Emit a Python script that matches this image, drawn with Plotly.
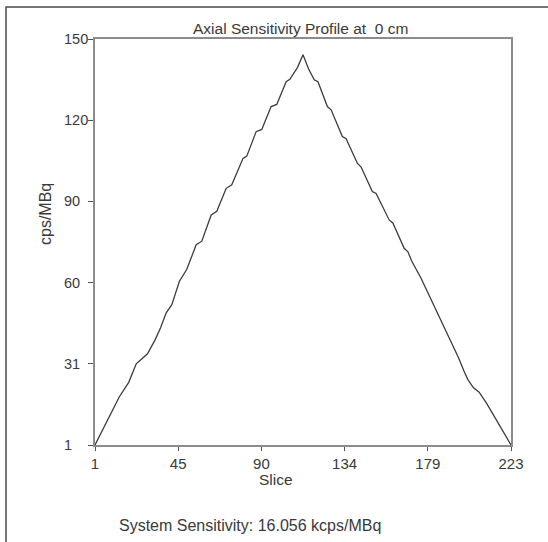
import numpy as np
import plotly.graph_objects as go

# ---- data ----
slices = [1, 4, 7, 10, 14, 19, 23, 25, 29, 33, 36, 39, 42, 46, 49, 50, 55, 58,
          63, 66, 71, 74, 80, 82, 87, 90, 95, 98, 103, 105, 109, 112,
          115, 118, 120, 125, 127, 133, 135, 141, 143, 149, 151, 158, 160,
          166, 168, 170, 175, 183, 186, 190, 195, 198, 200, 203, 206, 210,
          215, 219, 223]
cps = [1, 5, 9.6, 13.5, 18.7, 24, 30.8, 32, 34.5, 39.5, 44, 49.5, 52.5, 61,
       64.8, 65.5, 74.5, 75.8, 85.4, 86.8, 95.2, 96.5, 106.2, 107, 116, 116.8,
       125.2, 126, 134.3, 135.2, 139.5, 144.2,
       139, 135, 134.3, 125.2, 124, 114.2, 113.4, 104.4, 103, 94, 93.3, 83.6,
       82.4, 73.2, 71.9, 68.5, 62.2, 50.5, 46, 40.7, 33, 28, 25, 22, 20.4,
       16.3, 10.2, 5.5, 1]

x_tick_labels = ["1", "45", "90", "134", "179", "223"]
y_tick_labels = ["1", "31", "60", "90", "120", "150"]

title_text = "Axial Sensitivity Profile at\u00a0 0 cm"
x_title = "Slice"
y_title = "cps/MBq"
footer_text = "System Sensitivity: 16.056 kcps/MBq"

x_min, x_max = 1, 223
y_min, y_max = 1, 150

# ---- figure ----
W, H = 548, 542
L, R, T, B = 95, 37, 39, 97
pw, ph = W - L - R, H - T - B


def px(xp):
    return (xp - L) / pw


def py(yp):
    return (H - B - yp) / ph


FONT = "Liberation Sans, Arial, sans-serif"
TXT = "#3a3a3a"
AX = "#8c8c8c"

x_ticks = np.linspace(x_min, x_max, len(x_tick_labels))
y_ticks = np.linspace(y_min, y_max, len(y_tick_labels))

fig = go.Figure()
fig.add_trace(go.Scatter(x=slices, y=cps, mode="lines",
                         line=dict(color="#3c3c3c", width=1.3),
                         showlegend=False, hoverinfo="skip"))

annotations = [
    dict(text=title_text, x=px(300), y=py(28), xref="paper", yref="paper",
         showarrow=False, xanchor="center", yanchor="middle",
         font=dict(family=FONT, size=15.5, color=TXT)),
    dict(text=x_title, x=px(276), y=py(479), xref="paper", yref="paper",
         showarrow=False, xanchor="center", yanchor="middle",
         font=dict(family=FONT, size=15.5, color=TXT)),
    dict(text=y_title, x=px(45), y=py(214), xref="paper", yref="paper",
         showarrow=False, xanchor="center", yanchor="middle", textangle=-90,
         font=dict(family=FONT, size=16, color=TXT)),
    dict(text=footer_text, x=px(250), y=py(525), xref="paper", yref="paper",
         showarrow=False, xanchor="center", yanchor="middle",
         font=dict(family=FONT, size=16, color=TXT)),
]
for v, lab in zip(y_ticks, y_tick_labels):
    annotations.append(dict(text=lab, x=px(62), y=v, xref="paper", yref="y",
                            showarrow=False, xanchor="left", yanchor="middle",
                            font=dict(family=FONT, size=14.5, color=TXT)))

fig.update_layout(
    width=W, height=H, autosize=False,
    margin=dict(l=L, r=R, t=T, b=B, pad=0),
    paper_bgcolor="white", plot_bgcolor="white",
    annotations=annotations,
    shapes=[dict(type="rect", xref="paper", yref="paper",
                 x0=px(6), x1=px(W + 20), y0=py(H + 20), y1=py(7),
                 line=dict(color="#4a4a4a", width=1.5), layer="above")],
    xaxis=dict(range=[x_min, x_max], tickvals=x_ticks, ticktext=x_tick_labels,
               showgrid=False, zeroline=False, showline=True, mirror=True,
               linecolor=AX, linewidth=2, ticks="outside", ticklen=4,
               tickcolor="#555", tickwidth=1,
               tickfont=dict(family=FONT, size=15, color=TXT)),
    yaxis=dict(range=[y_min, y_max], tickvals=y_ticks, showticklabels=False,
               showgrid=False, zeroline=False, showline=True, mirror=True,
               linecolor=AX, linewidth=2, ticks="outside", ticklen=5,
               tickcolor="#555", tickwidth=1),
)

fig.write_html("out.html",
               config={"displayModeBar": False},
               post_script="document.body.style.margin='0px';"
                           "document.body.style.overflow='hidden';")
